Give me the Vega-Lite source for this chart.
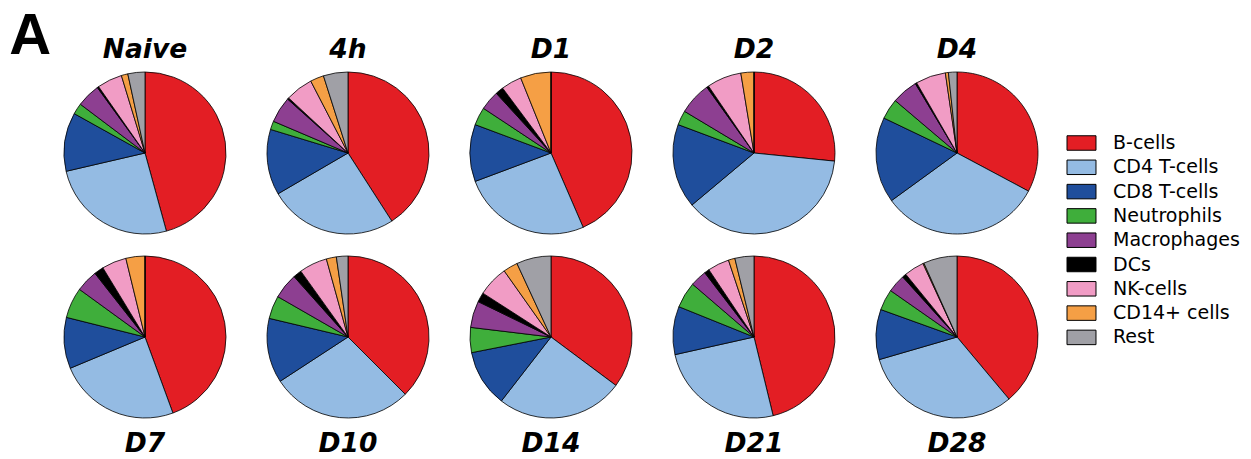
{
  "$schema": "https://vega.github.io/schema/vega-lite/v6.json",
  "padding": {"left": 9, "top": 7, "right": 5, "bottom": 5},
  "config": {"view": {"stroke": null}, "font": "Liberation Sans"},
  "title": {"text": "A", "orient": "left", "anchor": "end", "frame": "bounds", "angle": 0, "align": "right", "baseline": "middle", "fontSize": 58, "fontWeight": 900, "font": "Liberation Sans", "color": "black", "offset": -33},
  "data": {"values": [
    {"t":"Naive","c":"B-cells","k":1,"v":45.7},{"t":"Naive","c":"CD4 T-cells","k":2,"v":25.6},{"t":"Naive","c":"CD8 T-cells","k":3,"v":11.7},{"t":"Naive","c":"Neutrophils","k":4,"v":2.2},{"t":"Naive","c":"Macrophages","k":5,"v":4.7},{"t":"Naive","c":"DCs","k":6,"v":0.3},{"t":"Naive","c":"NK-cells","k":7,"v":5.0},{"t":"Naive","c":"CD14+ cells","k":8,"v":1.3},{"t":"Naive","c":"Rest","k":9,"v":3.4},
    {"t":"4h","c":"B-cells","k":1,"v":40.9},{"t":"4h","c":"CD4 T-cells","k":2,"v":25.7},{"t":"4h","c":"CD8 T-cells","k":3,"v":13.1},{"t":"4h","c":"Neutrophils","k":4,"v":1.7},{"t":"4h","c":"Macrophages","k":5,"v":5.2},{"t":"4h","c":"DCs","k":6,"v":0.3},{"t":"4h","c":"NK-cells","k":7,"v":5.5},{"t":"4h","c":"CD14+ cells","k":8,"v":2.7},{"t":"4h","c":"Rest","k":9,"v":4.9},
    {"t":"D1","c":"B-cells","k":1,"v":43.5},{"t":"D1","c":"CD4 T-cells","k":2,"v":25.8},{"t":"D1","c":"CD8 T-cells","k":3,"v":11.4},{"t":"D1","c":"Neutrophils","k":4,"v":3.6},{"t":"D1","c":"Macrophages","k":5,"v":3.9},{"t":"D1","c":"DCs","k":6,"v":1.6},{"t":"D1","c":"NK-cells","k":7,"v":4.1},{"t":"D1","c":"CD14+ cells","k":8,"v":6.1},{"t":"D1","c":"Rest","k":9,"v":0},
    {"t":"D2","c":"B-cells","k":1,"v":26.6},{"t":"D2","c":"CD4 T-cells","k":2,"v":37.3},{"t":"D2","c":"CD8 T-cells","k":3,"v":16.8},{"t":"D2","c":"Neutrophils","k":4,"v":2.9},{"t":"D2","c":"Macrophages","k":5,"v":6.5},{"t":"D2","c":"DCs","k":6,"v":0.4},{"t":"D2","c":"NK-cells","k":7,"v":6.9},{"t":"D2","c":"CD14+ cells","k":8,"v":2.6},{"t":"D2","c":"Rest","k":9,"v":0},
    {"t":"D4","c":"B-cells","k":1,"v":32.8},{"t":"D4","c":"CD4 T-cells","k":2,"v":32.2},{"t":"D4","c":"CD8 T-cells","k":3,"v":17.1},{"t":"D4","c":"Neutrophils","k":4,"v":4.1},{"t":"D4","c":"Macrophages","k":5,"v":5.2},{"t":"D4","c":"DCs","k":6,"v":0.3},{"t":"D4","c":"NK-cells","k":7,"v":6.0},{"t":"D4","c":"CD14+ cells","k":8,"v":0.6},{"t":"D4","c":"Rest","k":9,"v":1.7},
    {"t":"D7","c":"B-cells","k":1,"v":44.4},{"t":"D7","c":"CD4 T-cells","k":2,"v":24.3},{"t":"D7","c":"CD8 T-cells","k":3,"v":10.2},{"t":"D7","c":"Neutrophils","k":4,"v":6.1},{"t":"D7","c":"Macrophages","k":5,"v":4.4},{"t":"D7","c":"DCs","k":6,"v":1.9},{"t":"D7","c":"NK-cells","k":7,"v":4.9},{"t":"D7","c":"CD14+ cells","k":8,"v":3.8},{"t":"D7","c":"Rest","k":9,"v":0},
    {"t":"D10","c":"B-cells","k":1,"v":37.5},{"t":"D10","c":"CD4 T-cells","k":2,"v":28.3},{"t":"D10","c":"CD8 T-cells","k":3,"v":12.9},{"t":"D10","c":"Neutrophils","k":4,"v":4.6},{"t":"D10","c":"Macrophages","k":5,"v":5.1},{"t":"D10","c":"DCs","k":6,"v":1.7},{"t":"D10","c":"NK-cells","k":7,"v":5.6},{"t":"D10","c":"CD14+ cells","k":8,"v":2.0},{"t":"D10","c":"Rest","k":9,"v":2.3},
    {"t":"D14","c":"B-cells","k":1,"v":35.2},{"t":"D14","c":"CD4 T-cells","k":2,"v":25.3},{"t":"D14","c":"CD8 T-cells","k":3,"v":11.4},{"t":"D14","c":"Neutrophils","k":4,"v":5.0},{"t":"D14","c":"Macrophages","k":5,"v":5.3},{"t":"D14","c":"DCs","k":6,"v":1.9},{"t":"D14","c":"NK-cells","k":7,"v":6.1},{"t":"D14","c":"CD14+ cells","k":8,"v":2.9},{"t":"D14","c":"Rest","k":9,"v":6.9},
    {"t":"D21","c":"B-cells","k":1,"v":46.2},{"t":"D21","c":"CD4 T-cells","k":2,"v":25.3},{"t":"D21","c":"CD8 T-cells","k":3,"v":9.6},{"t":"D21","c":"Neutrophils","k":4,"v":5.2},{"t":"D21","c":"Macrophages","k":5,"v":3.3},{"t":"D21","c":"DCs","k":6,"v":1.0},{"t":"D21","c":"NK-cells","k":7,"v":4.3},{"t":"D21","c":"CD14+ cells","k":8,"v":1.3},{"t":"D21","c":"Rest","k":9,"v":3.8},
    {"t":"D28","c":"B-cells","k":1,"v":38.9},{"t":"D28","c":"CD4 T-cells","k":2,"v":31.6},{"t":"D28","c":"CD8 T-cells","k":3,"v":10.0},{"t":"D28","c":"Neutrophils","k":4,"v":4.2},{"t":"D28","c":"Macrophages","k":5,"v":3.6},{"t":"D28","c":"DCs","k":6,"v":0.8},{"t":"D28","c":"NK-cells","k":7,"v":4.0},{"t":"D28","c":"CD14+ cells","k":8,"v":0.2},{"t":"D28","c":"Rest","k":9,"v":6.7}
  ]},
  "spacing": 14,
  "vconcat": [
    {
      "transform": [{"filter": {"field": "t", "oneOf": ["Naive","4h","D1","D2","D4"]}}],
      "facet": {"column": {"field": "t", "type": "nominal", "sort": ["Naive","4h","D1","D2","D4"],
        "header": {"title": null, "labelOrient": "top", "labelFontSize": 26.5, "labelFontWeight": "bold", "labelFontStyle": "italic", "labelFont": "DejaVu Sans", "labelColor": "black", "labelPadding": -16, "labelBaseline": "alphabetic"}}},
      "spacing": 33,
      "spec": {
        "width": 170, "height": 170,
        "mark": {"type": "arc", "outerRadius": 81, "stroke": "black", "strokeWidth": 0.8},
        "encoding": {
          "theta": {"field": "v", "type": "quantitative", "stack": true},
          "order": {"field": "k", "type": "quantitative"},
          "color": {"field": "c", "type": "nominal",
            "scale": {"domain": ["B-cells","CD4 T-cells","CD8 T-cells","Neutrophils","Macrophages","DCs","NK-cells","CD14+ cells","Rest"],
                      "range": ["#e31e24","#94bbe3","#1f4e9c","#3fae3b","#8d3f91","#000000","#f19cc5","#f59f45","#a0a0a6"]},
            "legend": {"orient": "none", "legendX": 1012, "legendY": 65.5, "title": null, "symbolType": "M-2,-1H2V1H-2Z", "symbolSize": 210, "symbolStrokeColor": "black", "symbolStrokeWidth": 1, "symbolOpacity": 1, "labelFontSize": 19, "labelFont": "DejaVu Sans", "labelColor": "black", "labelOffset": 22, "rowPadding": 4.3, "labelLimit": 300}}
        }
      }
    },
    {
      "transform": [{"filter": {"field": "t", "oneOf": ["D7","D10","D14","D21","D28"]}}],
      "facet": {"column": {"field": "t", "type": "nominal", "sort": ["D7","D10","D14","D21","D28"],
        "header": {"title": null, "labelOrient": "bottom", "labelFontSize": 26.5, "labelFontWeight": "bold", "labelFontStyle": "italic", "labelFont": "DejaVu Sans", "labelColor": "black", "labelPadding": 9, "labelBaseline": "top"}}},
      "spacing": 33,
      "spec": {
        "width": 170, "height": 170,
        "mark": {"type": "arc", "outerRadius": 81, "stroke": "black", "strokeWidth": 0.8},
        "encoding": {
          "theta": {"field": "v", "type": "quantitative", "stack": true},
          "order": {"field": "k", "type": "quantitative"},
          "color": {"field": "c", "type": "nominal"}
        }
      }
    }
  ]
}
